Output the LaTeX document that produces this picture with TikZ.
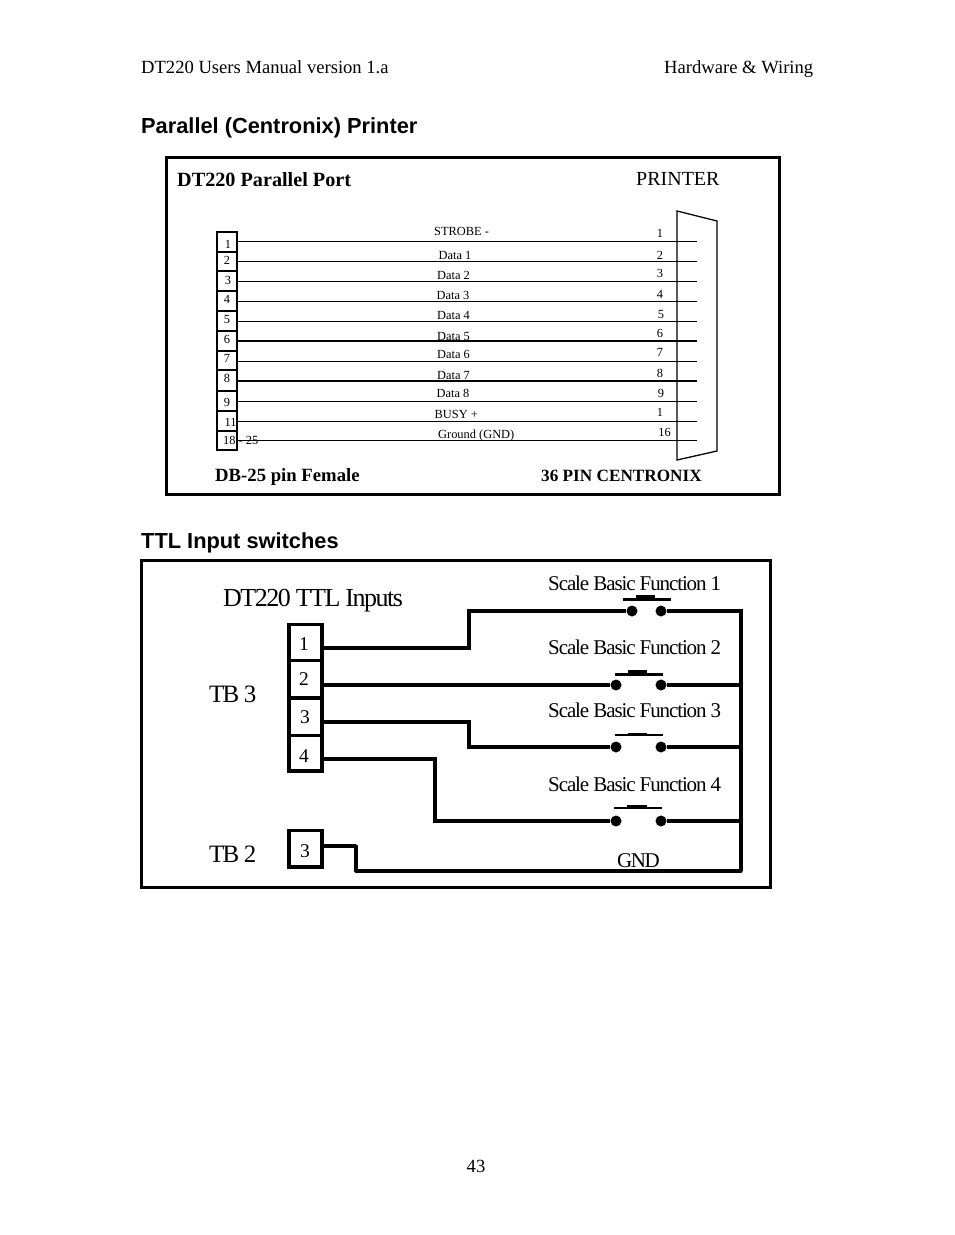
\documentclass[tikz,border=0pt]{standalone}
\usepackage{fontspec}
\setmainfont{Liberation Serif}
\newfontfamily\headfont{Liberation Sans}
\newcommand{\fsz}[1]{\fontsize{#1}{#1}\selectfont}
\tikzset{
  x=1pt,y=-1pt,
  lbl/.style={inner sep=0pt,anchor=base west,text=black},
  clbl/.style={inner sep=0pt,anchor=base,text=black},
  pagetxt/.style={lbl,font=\fsz{18.6}},
  headtxt/.style={lbl,font=\headfont\bfseries\fsz{21.8}},
  titletxt/.style={lbl,font=\bfseries\fsz{20.2}},
  boldtxt/.style={lbl,font=\bfseries\fsz{18.7}},
  tiny/.style={lbl,font=\fsz{12.4}},
  tinyc/.style={clbl,font=\fsz{12.4}},
  frame/.style={draw=black,line width=3pt},
  wire/.style={draw=black,line width=1pt},
  wirethick/.style={draw=black,line width=2pt},
  cellline/.style={draw=black,line width=1.6pt},
  tblock/.style={draw=black,line width=3.5pt},
  tw/.style={draw=black,line width=3.3pt},
  tws/.style={draw=black,line width=3.05pt},
  dot/.style={circle,fill=black,inner sep=0pt,minimum size=11pt},
  bign/.style={clbl,font=\fsz{19.5}},
}
\begin{document}
\begin{tikzpicture}
\useasboundingbox (0,0) rectangle (954,1235);
\fill[white] (0,0) rectangle (954,1235);
% page text
\node[pagetxt] (hl) at (141,73) {DT220 Users Manual version 1.a};
\node[pagetxt] (hr) at (664,73) {Hardware \& Wiring};
\node[headtxt] (h1) at (141,133) {Parallel (Centronix) Printer};
\node[headtxt] (h2) at (141,548) {TTL Input switches};
\node[pagetxt,anchor=base] (pn) at (476,1172) {43};
% parallel frame
\draw[frame] (166,157) rectangle (779,494);
\node[titletxt] (t1) at (177,186) {DT220 Parallel Port};
\node[lbl,font=\fsz{20}] (t2) at (636,185) {PRINTER};
\node[boldtxt] (t3) at (215,481) {DB-25 pin Female};
\node[boldtxt,font=\bfseries\fsz{17.2}] (t4) at (541,481) {36 PIN CENTRONIX};
% DB25 cells
\foreach \n/\top/\bot in {a/232/252,b/252/271,c/271/291,d/291/311,e/311/331,f/331/351,g/351/370,h/370/391,i/391/411,j/411/431,k/431/450}{
  \draw[cellline] (217,\top) rectangle (237,\bot);
}
% Centronix shell
\draw[draw=black,line width=1.3pt] (677,211) -- (717,221) -- (717,451) -- (677,460) -- cycle;
% wires
\foreach \n/\y/\s in {a/241/wire,b/261/wire,c/281/wire,d/301/wire,e/321/wire,f/341/wirethick,g/361/wire,h/381/wirethick,i/401/wire,j/421/wire,k/440/wire}{
  \coordinate (wl\n) at (237,\y);
  \coordinate (wr\n) at (697,\y);
  \draw[\s] (wl\n) -- (wr\n);
}
% left pin labels
\foreach \nm/\t/\x/\y in {p1/1/228/248,p2/2/227/264.5,p3/3/228/284,p4/4/227/303,p5/5/227/323,p6/6/227/343,p7/7/227/362,p8/8/227/382,p9/9/227/406,p11/11/230.5/426}{
  \node[tinyc] (\nm) at (\x,\y) {\t};
}
\node[tiny] (p18) at (223,444) {18 - 25};
% right pin labels
\foreach \nm/\t/\x/\y in {q1/1/660/237,q2/2/660/259,q3/3/660/277,q4/4/660/298,q5/5/661/318,q6/6/660/337,q7/7/660/356,q8/8/660/377,q9/9/661/397,q10/1/660/416,q16/16/664.5/436}{
  \node[tinyc] (\nm) at (\x,\y) {\t};
}
% signal labels
\foreach \nm/\t/\x/\y in {s0/STROBE -/434/235,s1/Data 1/438.5/259,s2/Data 2/437/279,s3/Data 3/436.5/299,s4/Data 4/437/319,s5/Data 5/437/340,s6/Data 6/437/358,s7/Data 7/437/379,s8/Data 8/436.5/397,s9/BUSY +/434.5/418.5,s10/Ground (GND)/438/438}{
  \node[tiny] (\nm) at (\x,\y) {\t};
}
% TTL frame
\draw[frame] (141,560) rectangle (770,887);
\node[lbl,font=\fsz{26}] (t5) at (223,606) {\addfontfeature{LetterSpace=-5.8}DT220 TTL Inputs};
\node[lbl,font=\fsz{25}] (t6) at (209,702) {\addfontfeature{LetterSpace=-7}TB 3};
\node[lbl,font=\fsz{25}] (t7) at (209,862) {\addfontfeature{LetterSpace=-7}TB 2};
% terminal blocks
\draw[tblock] (289,624.5) rectangle (322,771);
\draw[tblock] (289,660.5) -- (322,660.5);
\draw[tblock] (289,698) -- (322,698);
\draw[tblock] (289,735.5) -- (322,735.5);
\draw[tblock] (289,830.5) rectangle (322,867);
\node[bign] (n1) at (304,650) {1};
\node[bign] (n2) at (304,685.5) {2};
\node[bign] (n3) at (305,723) {3};
\node[bign] (n4) at (304,762) {4};
\node[bign] (n5) at (305,857) {3};
% switch dots
\foreach \nm/\x/\y in {d1l/632/611,d1r/661/611,d2l/616/685,d2r/661/685,d3l/616/747,d3r/661/747,d4l/616/821,d4r/661/821}{
  \node[dot] (\nm) at (\x,\y) {};
}
% switch bars
\draw[draw=black,line width=3pt] (623,599) -- (671,599);
\fill[black] (636,594.5) rectangle (655,599);
\draw[draw=black,line width=3pt] (615,674) -- (663,674);
\fill[black] (628,669.5) rectangle (647,674);
\draw[draw=black,line width=2.4pt] (615,735) -- (663,735);
\fill[black] (628,733) rectangle (647,735);
\draw[draw=black,line width=2.4pt] (614,808) -- (662,808);
\fill[black] (627,804.5) rectangle (647,808);
% coordinates and wires
\coordinate (w1s) at (322,648);
\coordinate (w2s) at (322,685);
\coordinate (w3s) at (322,722);
\coordinate (w4s) at (322,759);
\coordinate (w5s) at (322,846);
\coordinate (w5a) at (356,846);
\coordinate (w5b) at (356,871);
\coordinate (bc) at (741,871);
\coordinate (bt) at (741,611);
\draw[tw,line join=miter] (w1s) -| (469,611) -- (d1l);
\draw[tw] (w2s) -- (d2l);
\draw[tws,line join=miter] (w3s) -| (469,747) -- (d3l);
\draw[tws,line join=miter] (w4s) -| (435,821) -- (d4l);
\draw[tws] (w5s) -- (w5a);
\draw[tws,line cap=round] (w5a) -- (w5b);
\draw[tw,line cap=round] (w5b) -- (bc);
\draw[draw=black,line width=4pt,line join=miter] (d1r) -- (bt) -- (bc);
\draw[tw] (d2r) -- (741,685);
\draw[tws] (d3r) -- (741,747);
\draw[tws] (d4r) -- (741,821);
% switch labels
\foreach \nm/\t/\y in {f1/1/590,f2/2/654,f3/3/717,f4/4/791}{
  \node[lbl,font=\fsz{21}] (\nm) at (548,\y) {\addfontfeature{LetterSpace=-5.3}Scale Basic Function \t};
}
\node[lbl,font=\fsz{21}] (gnd) at (617,867) {\addfontfeature{LetterSpace=-7}GND};
\end{tikzpicture}
\end{document}
